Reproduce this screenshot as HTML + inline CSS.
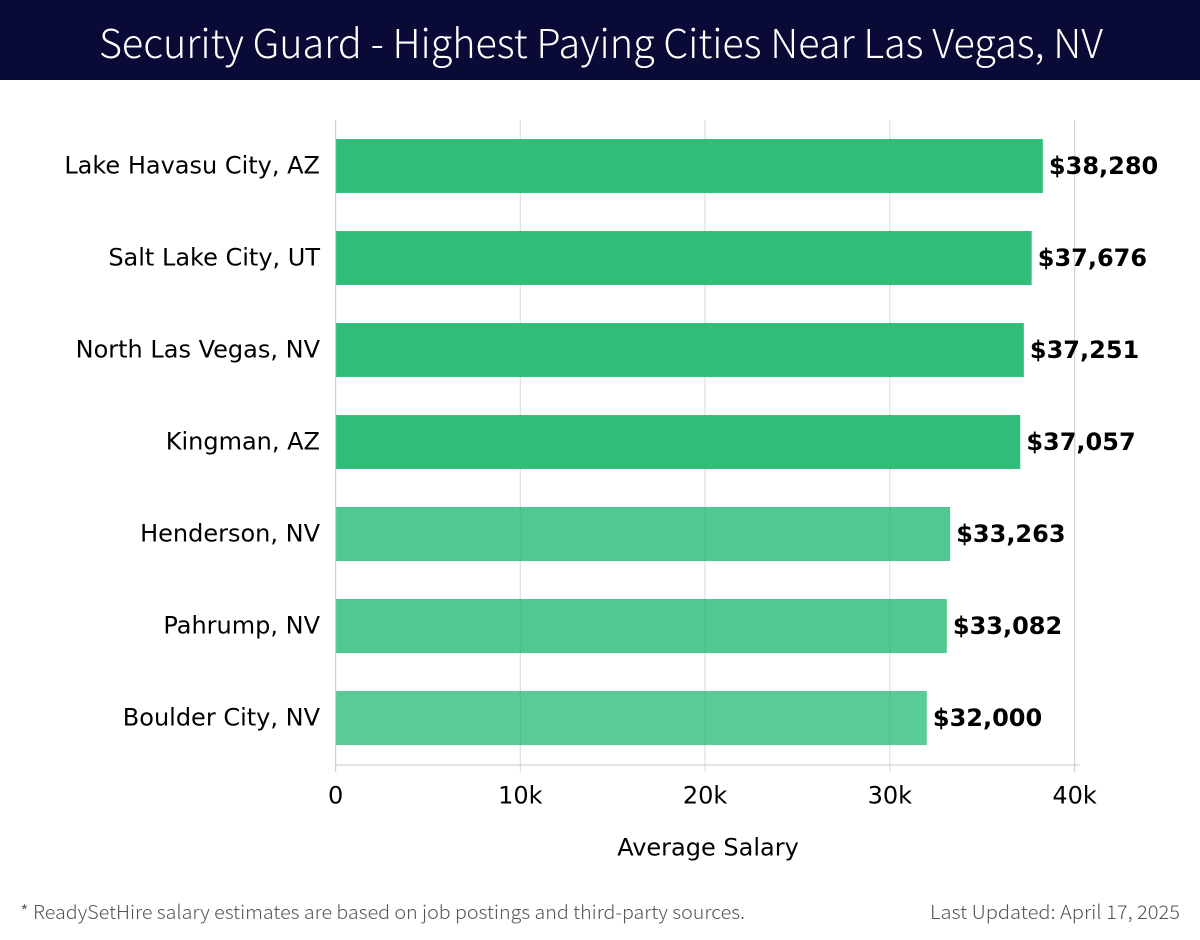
<!DOCTYPE html>
<html lang="en">
<head>
<meta charset="utf-8">
<title>Security Guard - Highest Paying Cities Near Las Vegas, NV</title>
<style>
html,body{margin:0;padding:0;background:#fff;width:1200px;height:940px;overflow:hidden}
svg{display:block}
text{font-family:"DejaVu Sans",sans-serif}
text.ub{font-family:"Noto Sans CJK JP","Liberation Sans",sans-serif;font-weight:300}
</style>
</head>
<body>
<svg id="chart" width="1200" height="940" viewBox="0 0 1200 940" xmlns="http://www.w3.org/2000/svg">
<rect x="0" y="0" width="1200" height="940" fill="#ffffff"/>
<rect x="0" y="0" width="1200" height="80" fill="#0a0a36"/>
<text class="ub" x="99" y="58" font-size="40" fill="#ffffff" textLength="1004" lengthAdjust="spacingAndGlyphs">Security Guard - Highest Paying Cities Near Las Vegas, NV</text>
<g id="grid"></g>
<g id="bars"></g>
<g id="axes"></g>
<text x="708" y="855.5" font-size="24" text-anchor="middle" fill="#000">Average Salary</text>
<text class="ub" x="20" y="919" font-size="19" fill="#555555" textLength="725" lengthAdjust="spacingAndGlyphs">* ReadySetHire salary estimates are based on job postings and third-party sources.</text>
<text class="ub" x="930" y="919" font-size="19" fill="#555555" textLength="250" lengthAdjust="spacingAndGlyphs">Last Updated: April 17, 2025</text>
</svg>
<script>
const cities = ["Lake Havasu City, AZ","Salt Lake City, UT","North Las Vegas, NV","Kingman, AZ","Henderson, NV","Pahrump, NV","Boulder City, NV"];
const salaries = [38280,37676,37251,37057,33263,33082,32000];
const tickValues = [0,10000,20000,30000,40000];
const tickLabels = ["0","10k","20k","30k","40k"];

const NS = "http://www.w3.org/2000/svg";
const plotLeft = 335.6, plotRight = 1074.6, plotTop = 120, plotBottom = 765;
const xMax = 40000;
const firstBarCenter = 166, bandStep = 92, barHeight = 54;

function xScale(v){ return plotLeft + (v / xMax) * (plotRight - plotLeft); }
function yScale(i){ return firstBarCenter + i * bandStep; }
function barOpacity(v){ return v >= 35000 ? 0.92 : (v >= 33000 ? 0.78 : 0.74); }
function make(tag, attrs, parent, txt){
  const el = document.createElementNS(NS, tag);
  for (const k in attrs) el.setAttribute(k, attrs[k]);
  if (txt !== undefined) el.textContent = txt;
  parent.appendChild(el);
  return el;
}
const grid = document.getElementById("grid");
const bars = document.getElementById("bars");
const axes = document.getElementById("axes");

tickValues.forEach(function(t, i){
  const x = xScale(t);
  const line = make("line", {x1:x, x2:x, y1:plotTop, y2:772, stroke: (i === 0 || i === tickValues.length - 1) ? "#d2d2d2" : "#e0e0e0", "stroke-width":1.3}, grid);
  
  
  const label = make("text", {x:x, y:803.5, "font-size":24, "text-anchor":"middle", fill:"#000"}, axes, tickLabels[i]);
  
  
});

const baseline = make("line", {x1:plotLeft, x2:1080, y1:plotBottom, y2:plotBottom, stroke:"#d2d2d2", "stroke-width":1.3}, axes);



salaries.forEach(function(v, i){
  const cy = yScale(i);
  const bar = make("rect", {x:plotLeft + 0.5, y:cy - barHeight / 2, width:xScale(v) - plotLeft - 0.5, height:barHeight, fill:"#1fb96f", "fill-opacity":barOpacity(v)}, bars);
  
  
  const value = make("text", {x:xScale(v) + 6.1, y:cy + 8, "font-size":24, "font-weight":"bold", fill:"#000"}, bars, "$" + v.toLocaleString("en-US"));
  
  
  const city = make("text", {x:320, y:cy + 7.5, "font-size":24, "text-anchor":"end", fill:"#000"}, axes, cities[i]);
  
  
});
</script>
</body>
</html>
